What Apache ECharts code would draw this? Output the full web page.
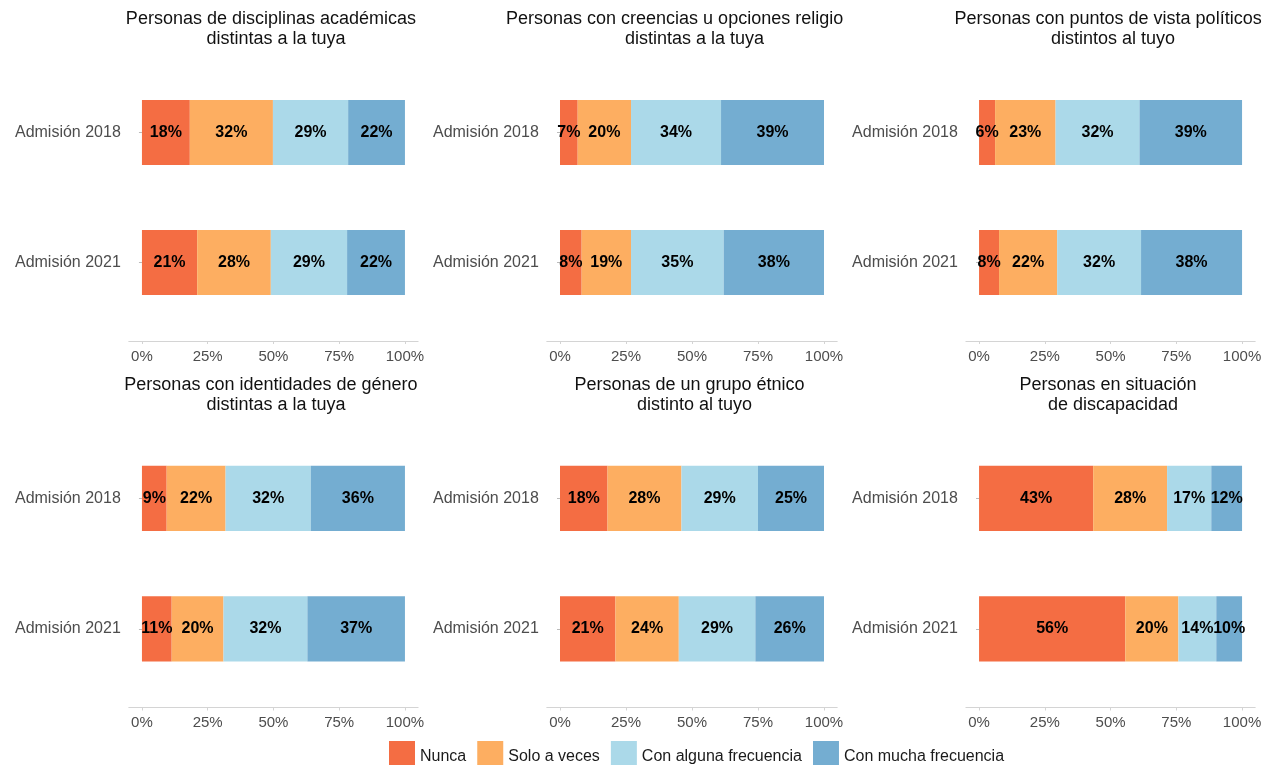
<!DOCTYPE html>
<html>
<head>
<meta charset="utf-8">
<title>Convivencia con la diversidad</title>
<script src="https://cdn.jsdelivr.net/npm/echarts@6/dist/echarts.min.js"></script>
<style>
  html, body { margin: 0; padding: 0; background: #fff; }
  #chart { width: 1272px; height: 765px; }
</style>
</head>
<body>
<div id="chart"></div>
<script>
// categorias y niveles
const categories = ["Admisión 2018", "Admisión 2021"];
const levels = ["Nunca", "Solo a veces", "Con alguna frecuencia", "Con mucha frecuencia"];
const colors = ["#F46D43", "#FDAE61", "#ABD9E9", "#74ADD1"];
const xTicks = [0, 25, 50, 75, 100];

// porcentajes por panel: [2018], [2021] en el orden de levels
const disciplinas = [[18.2, 31.6, 28.6, 21.6], [21, 28, 29, 22]];
const creencias = [[6.7, 20.2, 34.1, 39.0], [8.2, 18.7, 35.1, 38.0]];
const politicos = [[6.1, 23.0, 31.9, 39.0], [7.6, 22.1, 31.9, 38.4]];
const genero = [[9.4, 22.4, 32.4, 35.8], [11.3, 19.7, 31.9, 37.1]];
const etnico = [[18, 28, 29, 25], [21, 24, 29, 26]];
const discapacidad = [[43.4, 28.1, 16.8, 11.7], [55.6, 20.2, 14.4, 9.8]];

const panelData = [disciplinas, creencias, politicos, genero, etnico, discapacidad];

// posicion de cada panel
const colLeft = [128.8, 546.8, 965.9];
const colWidth = [289.3, 290.4, 289.3];
const rowTop = [67.5, 433];
const rowHeight = [260, 261];
const titleTop = [9, 375];

const font = "Liberation Sans, Arial, sans-serif";

const grid = [];
const xAxis = [];
const yAxis = [];
const series = [];

panelData.forEach((rows, i) => {
  const col = i % 3;
  const row = Math.floor(i / 3);
  grid.push({
    left: colLeft[col],
    top: rowTop[row],
    width: colWidth[col],
    height: rowHeight[row],
    outerBoundsMode: "none",
  });
  xAxis.push({
    gridIndex: i,
    type: "value",
    min: -5,
    max: 105,
    offset: 13.5,
    splitLine: { show: false },
    axisLine: { show: true, lineStyle: { color: "#d4d4d4", width: 1 } },
    axisTick: {
      show: true,
      customValues: xTicks,
      length: 3,
      lineStyle: { color: "#d4d4d4" },
    },
    axisLabel: {
      customValues: xTicks,
      formatter: "{value}%",
      fontSize: 15,
      color: "#4d4d4d",
      margin: 8,
      fontFamily: font,
    },
  });
  yAxis.push({
    gridIndex: i,
    type: "category",
    data: categories,
    inverse: true,
    axisLine: { show: false },
    axisTick: {
      show: true,
      alignWithLabel: true,
      length: 3,
      lineStyle: { color: "#bbbbbb" },
    },
    axisLabel: { fontSize: 16, color: "#4d4d4d", margin: 8, fontFamily: font },
  });
  levels.forEach((name, k) => {
    series.push({
      name: name,
      type: "bar",
      xAxisIndex: i,
      yAxisIndex: i,
      stack: "p" + i,
      barWidth: "50%",
      data: rows.map((r) => r[k]),
      itemStyle: { color: colors[k] },
      label: {
        show: true,
        position: "inside",
        formatter: (p) => Math.round(p.value) + "%",
        color: "#000",
        fontWeight: "bold",
        fontSize: 16,
        fontFamily: font,
        textBorderWidth: 0,
      },
    });
  });
});

// titulos de los paneles
const titleText = [
  "Personas de disciplinas académicas \n distintas a la tuya",
  null,
  "Personas con puntos de vista políticos \n distintos al tuyo",
  "Personas con identidades de género \n distintas a la tuya",
  "Personas de un grupo étnico \n distinto al tuyo",
  "Personas en situación \n de discapacidad",
];
const titleStyle = { fontSize: 18, fontWeight: "normal", color: "#111", lineHeight: 20, fontFamily: font };
const title = [];
titleText.forEach((t, i) => {
  if (!t) return;
  const col = i % 3;
  const row = Math.floor(i / 3);
  title.push({
    text: t,
    left: colLeft[col] + colWidth[col] / 2,
    top: titleTop[row],
    padding: 0,
    textAlign: "center",
    textStyle: titleStyle,
  });
});
// el titulo del panel 2 aparece recortado en el original
title.push({
  text: "Personas con creencias u opciones religio",
  left: 506,
  top: titleTop[0],
  padding: 0,
  textAlign: "left",
  textStyle: titleStyle,
});
title.push({
  text: " distintas a la tuya",
  left: colLeft[1] + colWidth[1] / 2,
  top: titleTop[0] + 20,
  padding: 0,
  textAlign: "center",
  textStyle: titleStyle,
});

const chart = echarts.init(document.getElementById("chart"));
chart.setOption({
  animation: false,
  backgroundColor: "#fff",
  textStyle: { fontFamily: font },
  title: title,
  legend: {
    data: levels,
    left: 389,
    top: 741,
    itemWidth: 26,
    itemHeight: 32,
    itemGap: 11,
    icon: "rect",
    padding: 0,
    textStyle: { fontSize: 16, color: "#1a1a1a", fontFamily: font },
  },
  grid: grid,
  xAxis: xAxis,
  yAxis: yAxis,
  series: series,
});
</script>
</body>
</html>
